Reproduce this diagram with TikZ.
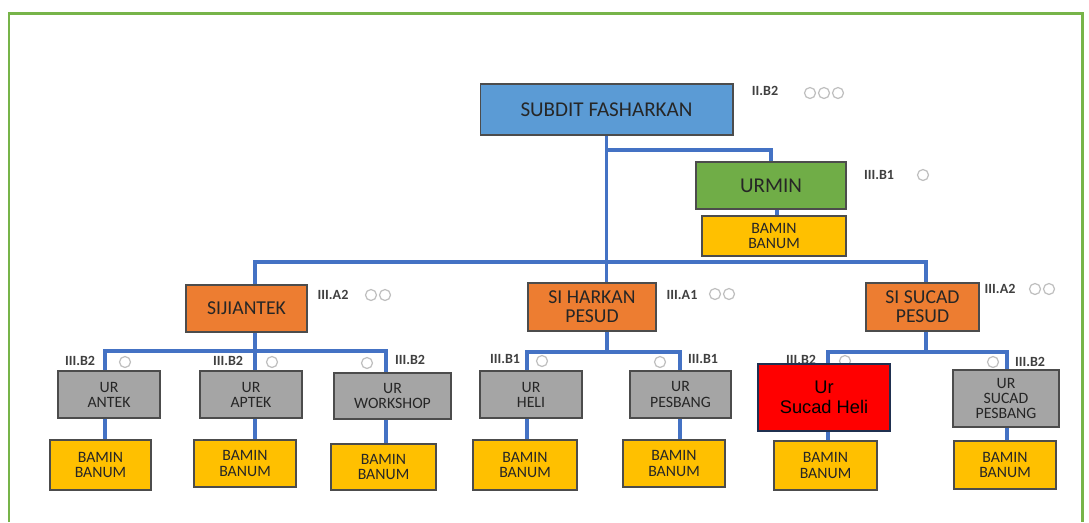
\documentclass[tikz,border=0pt]{standalone}
\usepackage{fontspec}
\setmainfont{Carlito}
\newfontfamily\arialfont{Liberation Sans}
\usepackage{tikz}
\usetikzlibrary{positioning,calc}

\definecolor{boxblue}{HTML}{5B9BD5}
\definecolor{boxgreen}{HTML}{70AD47}
\definecolor{boxorange}{HTML}{ED7D31}
\definecolor{boxgray}{HTML}{A5A5A5}
\definecolor{boxgold}{HTML}{FFC000}
\definecolor{boxred}{HTML}{FF0000}
\definecolor{navyline}{HTML}{1F3050}
\definecolor{linkblue}{HTML}{4472C4}
\definecolor{framegreen}{HTML}{77B449}
\definecolor{inkgray}{HTML}{262626}

\begin{document}
\begin{tikzpicture}[x=0.02cm, y=-0.02cm,
    box/.style={draw=black!70, line width=0.6pt, rectangle, align=center, text=inkgray, inner sep=1pt},
    head/.style={box, fill=boxblue, minimum width=5.06cm, minimum height=1.02cm, font=\fontsize{12}{12}\selectfont},
    admin/.style={box, fill=boxgreen, minimum width=3cm, minimum height=0.94cm, font=\fontsize{12}{12}\selectfont},
    section/.style={box, fill=boxorange, minimum height=0.96cm, font=\fontsize{11.2}{11}\selectfont},
    unit/.style={box, fill=boxgray, minimum width=2.04cm, minimum height=0.94cm, font=\fontsize{9}{8.6}\selectfont},
    staff/.style={box, fill=boxgold, minimum width=2.04cm, minimum height=0.96cm, font=\fontsize{9}{9}\selectfont},
    alert/.style={draw=navyline, line width=1.5pt, fill=boxred, align=center, text=black, minimum width=2.64cm, minimum height=1.34cm, font=\arialfont\fontsize{10.4}{11.5}\selectfont},
    rank/.style={font=\fontsize{8}{8}\selectfont\bfseries, text=black!75, inner sep=0pt},
    pip/.style={circle, draw=gray!50, line width=0.7pt, minimum size=0.22cm, inner sep=0pt},
    link/.style={draw=linkblue, line width=2pt},
    frame/.style={draw=framegreen, line width=1.7pt}
]
    \useasboundingbox (0,0) rectangle (1089,522);
    \draw[frame] (9,522) |- (1082,13) -- (1082,522);

    % Rank labels and pips
    \foreach \x/\y/\t in {765/91/II.B2, 879/175/III.B1, 333/295/III.A2, 682/295/III.A1, 1000/289/III.A2,
        80/361/III.B2, 228/361/III.B2, 410/360/III.B2, 505/359/III.B1, 703/359/III.B1, 801/360/III.B2, 1030/362/III.B2} {
        \node[rank] (rk\x) at (\x,\y) {\t};
    }
    \foreach \x/\y in {810/93, 824/93, 838/93, 923/175, 371/295, 385/295, 715/294, 729/294, 1035/289, 1049/289,
        125/362, 272/362, 367/363, 542/361, 660/362, 845/361, 993/362} {
        \node[pip] (pip\x) at (\x,\y) {};
    }

    % Head and admin
    \node[head] (subdit) at (606.5,109.5) {SUBDIT FASHARKAN};
    \node[admin] (urmin) at (771,185.5) {URMIN};
    \node[staff, minimum width=2.88cm, minimum height=0.8cm] (bamin0) at (774,236) {BAMIN\\BANUM};

    % Sections
    \node[section, minimum width=2.42cm, minimum height=0.94cm] (jiantek) at (246.5,308.5) {SIJIANTEK};
    \node[section, minimum width=2.56cm] (harkan) at (592,307) {SI HARKAN\\PESUD};
    \node[section, minimum width=2.26cm] (sucad) at (922.5,307) {SI SUCAD\\PESUD};

    % Units
    \node[unit] (antek) at (109,394.5) {UR\\ANTEK};
    \node[unit] (aptek) at (251,394.5) {UR\\APTEK};
    \node[unit, minimum width=2.34cm, minimum height=0.92cm] (workshop) at (392.5,396) {UR\\WORKSHOP};
    \node[unit] (heli) at (531,394.5) {UR\\HELI};
    \node[unit, minimum width=2.02cm] (pesbang) at (680.5,394.5) {UR\\PESBANG};
    \node[alert] (sheli) at (824,397.5) {Ur\\Sucad Heli};
    \node[unit, minimum width=2.12cm, minimum height=1.14cm] (spesbang) at (1006,398.5) {UR\\SUCAD\\PESBANG};

    % Staff below units
    \node[staff, minimum width=2.02cm, minimum height=1cm] (bantek) at (100.5,465) {BAMIN\\BANUM};
    \node[staff, minimum height=0.94cm] (baptek) at (245,463.5) {BAMIN\\BANUM};
    \node[staff, minimum width=2.1cm, minimum height=0.92cm] (bworkshop) at (383.5,467) {BAMIN\\BANUM};
    \node[staff, minimum width=2.08cm, minimum height=1cm] (bheli) at (525,465) {BAMIN\\BANUM};
    \node[staff, minimum height=0.94cm] (bpesbang) at (674,463.5) {BAMIN\\BANUM};
    \node[staff, minimum width=2.06cm, minimum height=0.98cm] (bsheli) at (825.5,465.5) {BAMIN\\BANUM};
    \node[staff] (bspesbang) at (1005,465) {BAMIN\\BANUM};

    % Connectors
    \coordinate (jm) at (607,150);
    \coordinate (busL) at (255,262);
    \coordinate (busR) at (926,262);
    \draw[link] (subdit.south) -- (subdit.south |- harkan.north);
    \draw[link] (jm) -| (urmin.north);
    \draw[link] (777,0 |- urmin.south) -- (777,0 |- bamin0.north);
    \draw[link] (busL |- jiantek.north) |- (busR) -- (busR |- sucad.north);
    \draw[link] (255,0 |- jiantek.south) -- (255,0 |- aptek.north);
    \foreach \pn/\px/\py/\lx/\ln/\rx/\rn in {jiantek/255/351/105/antek/386/workshop,
        harkan/607/352/527/heli/680/pesbang, sucad/926/352/828/sheli/1007/spesbang} {
        \draw[link] (\lx,0 |- \ln.north) |- (\rx,\py) -- (\rx,0 |- \rn.north);
        \draw[link] (\px,0 |- \pn.south) -- (\px,\py);
    }
    \foreach \x/\u/\b in {105/antek/bantek, 255/aptek/baptek, 386/workshop/bworkshop, 527/heli/bheli,
        680/pesbang/bpesbang, 828/sheli/bsheli, 1007/spesbang/bspesbang} {
        \draw[link] (\x,0 |- \u.south) -- (\x,0 |- \b.north);
    }
\end{tikzpicture}
\end{document}
